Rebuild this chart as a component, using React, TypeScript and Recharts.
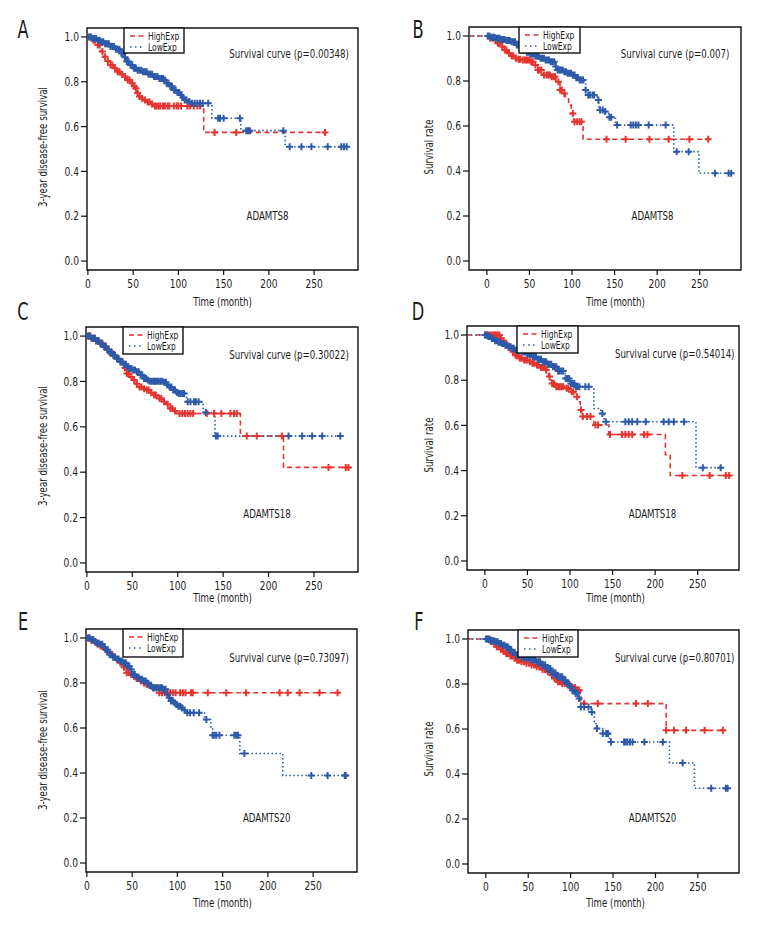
import React from 'react';
import { ComposedChart, Line, Scatter, XAxis, YAxis, ReferenceArea } from 'recharts';

const FONT = "'Liberation Sans Narrow', 'DejaVu Sans Condensed', 'Arial Narrow', sans-serif";
const RED = '#e3342f';
const BLUE = '#2c5aa8';

const xTicks = [0, 50, 100, 150, 200, 250];
const yTicks = [0, 0.2, 0.4, 0.6, 0.8, 1.0];

// ---- A : ADAMTS8, 3-year DFS ----
const aHighTime = [0, 5, 10, 14, 17, 21, 24, 28, 32, 36, 39, 43, 47, 50, 52, 54, 56, 59, 61, 65, 69, 72, 128, 262];
const aHighSurv = [1, 0.985, 0.964, 0.935, 0.912, 0.893, 0.875, 0.86, 0.845, 0.833, 0.823, 0.808, 0.793, 0.78, 0.771, 0.75, 0.734, 0.725, 0.719, 0.71, 0.701, 0.692, 0.574, 0.574];
const aHighCens = [3, 6, 8, 11, 13, 16, 19, 22, 25, 27, 30, 33, 35, 38, 41, 44, 46, 49, 51, 53, 55, 57, 60, 63, 66, 68, 71, 74, 76, 78, 80, 83, 85, 88, 90, 95, 98, 100, 103, 110, 113, 117, 121, 124, 140, 164, 262];
const aLowTime = [0, 5, 10, 14, 19, 25, 30, 36, 40, 43, 47, 50, 55, 61, 67, 72, 78, 84, 87, 91, 95, 98, 102, 105, 107, 110, 113, 137, 169, 218, 287.5];
const aLowSurv = [1, 0.993, 0.985, 0.979, 0.97, 0.957, 0.945, 0.927, 0.91, 0.89, 0.875, 0.86, 0.852, 0.845, 0.834, 0.823, 0.815, 0.808, 0.793, 0.78, 0.763, 0.752, 0.741, 0.73, 0.719, 0.712, 0.704, 0.637, 0.582, 0.51, 0.51];
const aLowCens = [1, 3, 5, 7, 9, 11, 13, 15, 17, 19, 21, 23, 25, 27, 29, 31, 33, 35, 37, 39, 41, 43, 45, 47, 49, 51, 53, 55, 57, 59, 61, 63, 65, 67, 69, 71, 73, 75, 77, 79, 81, 83, 85, 87, 89, 91, 93, 95, 97, 99, 101, 103, 105, 107, 109, 112, 115, 118, 121, 124, 127, 133, 144, 146, 150, 168, 175, 177, 179, 216, 223, 236, 247, 265, 280, 283, 286];

// ---- B : ADAMTS8, overall ----
const bHighTime = [-21, 3, 8, 12, 16, 20, 24, 28, 32, 36, 40, 51, 55, 59, 65, 75, 81, 86, 90, 92, 96, 99, 102, 113, 260.6];
const bHighSurv = [1, 0.99, 0.982, 0.968, 0.953, 0.938, 0.923, 0.912, 0.901, 0.897, 0.893, 0.886, 0.871, 0.849, 0.827, 0.819, 0.797, 0.76, 0.745, 0.73, 0.693, 0.656, 0.619, 0.541, 0.541];
const bHighCens = [4, 7, 10, 13, 15, 18, 21, 23, 26, 29, 31, 34, 37, 39, 42, 44, 46, 48, 50, 52, 54, 57, 60, 62, 64, 67, 70, 72, 74, 76, 78, 80, 84, 86, 88, 91, 101, 103, 106, 109, 111, 140.5, 163, 191, 213.6, 238, 260];
const bLowTime = [-21, 5, 10, 16, 22, 28, 34, 40, 46, 51, 57, 63, 69, 75, 80, 83, 90, 95, 100, 104, 108, 114, 116, 118, 129.5, 131.5, 137, 143, 151, 219.5, 249, 288];
const bLowSurv = [1, 0.995, 0.99, 0.985, 0.98, 0.975, 0.96, 0.938, 0.928, 0.92, 0.91, 0.901, 0.893, 0.886, 0.865, 0.849, 0.841, 0.835, 0.827, 0.815, 0.804, 0.797, 0.76, 0.738, 0.716, 0.671, 0.664, 0.639, 0.604, 0.486, 0.39, 0.39];
const bLowCens = [1, 3, 5, 7, 9, 11, 13, 15, 17, 19, 21, 23, 25, 27, 29, 31, 33, 35, 37, 39, 41, 43, 45, 47, 49, 51, 53, 55, 57, 59, 61, 63, 65, 67, 69, 71, 73, 75, 77, 79, 81, 83, 85, 87, 89, 91, 93, 95, 97, 99, 101, 103, 105, 107, 109, 111, 113, 116, 119, 121, 124, 126, 131, 133, 136, 139, 144, 146, 153, 169, 172, 175, 178, 190, 210, 223, 237, 268, 284, 287];

// ---- C : ADAMTS18, 3-year DFS ----
const cHighTime = [0, 5, 10, 14, 18, 22, 25, 29, 33, 36, 40, 43.4, 47, 50.8, 53, 56, 61, 65.5, 70, 73, 78, 84, 87, 91, 95, 98.7, 169, 216.5, 287];
const cHighSurv = [1, 0.99, 0.978, 0.968, 0.955, 0.94, 0.924, 0.912, 0.9, 0.887, 0.86, 0.835, 0.82, 0.806, 0.79, 0.776, 0.768, 0.762, 0.75, 0.74, 0.725, 0.71, 0.7, 0.681, 0.67, 0.659, 0.559, 0.421, 0.421];
const cHighCens = [2, 4, 6, 8, 10, 12, 15, 17, 19, 21, 24, 26, 28, 31, 34, 37, 39, 42, 44, 46, 49, 52, 55, 58, 60, 63, 66, 68, 71, 74, 76, 80, 82, 85, 89, 92, 94, 97, 102, 105, 108, 111, 114, 117, 132, 140, 148, 158, 162, 165, 176, 187, 214.7, 266, 285, 288];
const cLowTime = [0, 5, 10, 14, 18, 22, 25, 29, 33, 36, 40, 44, 47, 50, 54.5, 58, 62, 66, 69, 84, 87.6, 91, 95, 98, 100.5, 109.7, 128, 141, 279];
const cLowSurv = [1, 0.99, 0.98, 0.965, 0.952, 0.94, 0.93, 0.915, 0.9, 0.887, 0.875, 0.865, 0.857, 0.85, 0.843, 0.828, 0.813, 0.806, 0.801, 0.796, 0.784, 0.775, 0.762, 0.752, 0.747, 0.71, 0.663, 0.559, 0.559];
const cLowCens = [1, 3, 5, 7, 9, 11, 13, 15, 17, 19, 21, 23, 25, 27, 29, 31, 33, 35, 37, 39, 41, 43, 45, 47, 49, 51, 53, 55, 57, 59, 61, 63, 65, 67, 69, 71, 73, 75, 77, 79, 81, 83, 85, 87, 89, 91, 93, 95, 97, 99, 101, 103, 105, 107, 111, 114, 118, 120, 123, 131, 142, 144, 222, 237, 248, 259, 279];

// ---- D : ADAMTS18, overall ----
const dHighTime = [-21, 18, 21, 23.6, 27, 31.5, 35, 39, 45, 51, 55, 59, 65, 71, 73, 75, 77, 78.7, 82.7, 94.5, 100, 106, 110, 112, 114, 128, 145.7, 212, 217.7, 285.4];
const dHighSurv = [1, 0.985, 0.975, 0.963, 0.945, 0.926, 0.91, 0.897, 0.89, 0.882, 0.875, 0.867, 0.856, 0.845, 0.83, 0.816, 0.8, 0.786, 0.771, 0.764, 0.749, 0.727, 0.705, 0.668, 0.639, 0.602, 0.56, 0.47, 0.378, 0.378];
const dHighCens = [1, 3, 5, 7, 9, 11, 13, 15, 17, 19, 22, 25, 28, 30, 33, 36, 38, 41, 43, 46, 48, 50, 53, 56, 58, 61, 63, 66, 68, 70, 72, 76, 79, 81, 84, 86, 88, 90, 92, 96, 98, 102, 104, 108, 113, 115, 120, 124, 130, 133, 147, 161, 165, 169, 173, 187, 191, 232, 264, 283, 287];
const dLowTime = [-21, 3, 8, 12, 16, 19.7, 24, 28, 31.5, 36, 43, 49, 55, 61, 67, 73, 78.7, 84.6, 94.5, 100, 106, 128, 136, 140, 248, 277.6];
const dLowSurv = [1, 0.993, 0.985, 0.975, 0.968, 0.963, 0.955, 0.948, 0.941, 0.933, 0.926, 0.915, 0.904, 0.893, 0.882, 0.871, 0.86, 0.841, 0.808, 0.786, 0.771, 0.675, 0.653, 0.616, 0.413, 0.413];
const dLowCens = [0, 2, 4, 6, 8, 10, 12, 14, 16, 18, 20, 22, 24, 26, 28, 30, 32, 34, 36, 38, 40, 42, 44, 46, 48, 50, 52, 54, 56, 58, 60, 62, 64, 66, 68, 70, 72, 74, 76, 78, 80, 82, 84, 86, 88, 90, 92, 95, 97, 99, 101, 103, 105, 107, 109, 111, 118, 122, 138, 142, 165, 169, 173, 179, 189, 210, 216, 222, 234, 256, 277];

// ---- E : ADAMTS20, 3-year DFS ----
const eHighTime = [0, 4, 8, 11, 14, 18, 21, 25, 29, 33, 36, 40, 43.4, 47, 50.8, 54, 58, 62, 65.5, 69, 73, 78.4, 279];
const eHighSurv = [1, 0.99, 0.98, 0.972, 0.964, 0.952, 0.94, 0.927, 0.915, 0.903, 0.89, 0.87, 0.846, 0.838, 0.831, 0.82, 0.809, 0.8, 0.794, 0.786, 0.779, 0.757, 0.757];
const eHighCens = [2, 5, 7, 10, 12, 15, 17, 20, 23, 26, 28, 31, 34, 37, 39, 41, 44, 46, 49, 52, 55, 57, 60, 63, 66, 68, 71, 74, 77, 80, 83, 86, 89, 92, 95, 98, 103, 106, 109, 115, 117, 133.6, 154, 176, 213, 222, 235, 257, 277];
const eLowTime = [0, 4, 8, 11, 14, 18, 21, 25, 29, 32, 36, 40, 45, 48, 50.8, 55, 58, 62, 66, 69, 73, 84, 87.6, 90, 93, 96, 98.7, 101, 104, 107, 109.7, 130, 137, 139, 169, 216.5, 286.5];
const eLowSurv = [1, 0.993, 0.985, 0.978, 0.972, 0.96, 0.948, 0.927, 0.915, 0.907, 0.898, 0.89, 0.875, 0.86, 0.838, 0.826, 0.817, 0.809, 0.8, 0.79, 0.779, 0.772, 0.749, 0.735, 0.72, 0.712, 0.705, 0.697, 0.69, 0.679, 0.668, 0.638, 0.601, 0.568, 0.487, 0.389, 0.389];
const eLowCens = [1, 3, 5, 7, 9, 11, 13, 15, 17, 19, 21, 23, 25, 27, 29, 31, 33, 35, 37, 39, 41, 43, 45, 47, 49, 51, 53, 55, 57, 59, 61, 63, 65, 67, 69, 71, 73, 75, 77, 79, 81, 83, 85, 87, 89, 91, 93, 95, 97, 99, 101, 103, 105, 108, 111, 114, 118, 124, 132, 139, 141, 143, 146.5, 163, 165, 167, 174, 248, 266, 285, 286];

// ---- F : ADAMTS20, overall ----
const fHighTime = [-21, 5, 9, 11.8, 16, 20, 23.6, 28, 32, 35.4, 41, 47, 53, 59, 65, 71, 76, 79, 82.7, 88, 94.5, 100, 106, 112, 212.6, 279.5];
const fHighSurv = [1, 0.99, 0.978, 0.966, 0.955, 0.945, 0.936, 0.925, 0.915, 0.906, 0.899, 0.892, 0.885, 0.877, 0.865, 0.854, 0.84, 0.825, 0.81, 0.802, 0.795, 0.785, 0.773, 0.713, 0.594, 0.594];
const fHighCens = [2, 4, 6, 8, 10, 13, 15, 18, 21, 24, 26, 29, 31, 34, 37, 39, 42, 45, 48, 51, 54, 57, 60, 63, 67, 70, 73, 78, 81, 85, 87, 90, 93, 97, 99, 102, 105, 108, 110, 116, 132, 177, 191, 212.6, 222, 236, 258, 279.5];
const fLowTime = [-21, 4, 8, 12, 16, 20, 23.6, 28, 32, 35.4, 41, 47, 53, 59, 65, 71, 77, 82.7, 90.5, 95, 98.4, 102, 106, 110, 112, 124, 128, 130, 137.8, 145.7, 216.5, 246, 285.4];
const fLowSurv = [1, 0.996, 0.992, 0.988, 0.98, 0.972, 0.966, 0.952, 0.94, 0.929, 0.92, 0.914, 0.907, 0.899, 0.885, 0.869, 0.85, 0.832, 0.817, 0.8, 0.788, 0.772, 0.758, 0.736, 0.698, 0.676, 0.632, 0.602, 0.58, 0.542, 0.449, 0.337, 0.337];
const fLowCens = [0, 2, 4, 6, 8, 10, 12, 14, 16, 18, 20, 22, 24, 26, 28, 30, 32, 34, 36, 38, 40, 42, 44, 46, 48, 50, 52, 54, 56, 58, 60, 62, 64, 66, 68, 70, 72, 74, 76, 78, 80, 82, 84, 86, 88, 90, 92, 94, 96, 98, 100, 102, 104, 106, 108, 110, 112, 116, 121, 125, 131, 138, 142, 144, 147.6, 163, 165, 167, 170, 173, 187, 208.7, 232, 265.7, 283, 285];

const pValues = ['0.00348', '0.007', '0.30022', '0.54014', '0.73097', '0.80701'];
const genes = ['ADAMTS8', 'ADAMTS8', 'ADAMTS18', 'ADAMTS18', 'ADAMTS20', 'ADAMTS20'];

type Pt = { t: number; s: number };

const toPoints = (ts: number[], ss: number[]): Pt[] => ts.map((t, i) => ({ t, s: ss[i] }));
const stepAt = (ts: number[], ss: number[], c: number) => {
  let v = ss[0];
  for (let i = 0; i < ts.length; i++) if (ts[i] <= c) v = ss[i];
  return v;
};
const toCens = (ts: number[], ss: number[], cs: number[]): Pt[] => cs.map((c) => ({ t: c, s: stepAt(ts, ss, c) }));

const makeCross = (color: string) => (props: any) => {
  const { cx, cy } = props;
  if (cx == null || cy == null) return <g />;
  return <path d={`M${cx - 3.5},${cy}h7M${cx},${cy - 3.5}v7`} stroke={color} strokeWidth={2} fill="none" />;
};
const redCross = makeCross(RED);
const blueCross = makeCross(BLUE);

// condensed look: the page has no narrow font, so squeeze glyphs horizontally
const SX = 0.8;

const XTick = (props: any) => {
  const { x, y, payload } = props;
  return (
    <text transform={`translate(${x} ${y}) scale(0.88 1)`} textAnchor="middle" dy="0.71em" fontSize={11.5} fill="#1a1a1a" fontFamily={FONT}>
      {payload.value}
    </text>
  );
};
const YTick = (props: any) => {
  const { x, y, payload } = props;
  return (
    <text transform={`translate(${x} ${y}) scale(0.88 1)`} textAnchor="end" dy="0.355em" fontSize={11.5} fill="#1a1a1a" fontFamily={FONT}>
      {Number(payload.value).toFixed(1)}
    </text>
  );
};

const NText = ({ x, y, size, anchor = 'middle', rot = 0, sx = SX, children }: any) => (
  <text
    transform={`translate(${x} ${y}) rotate(${rot}) scale(${sx} 1)`}
    fontSize={size}
    textAnchor={anchor}
    dominantBaseline="central"
    fill="#1a1a1a"
  >
    {children}
  </text>
);

const panels = [
  { letter: 'A', ylab: '3-year disease-free survival', frame: { l: 87, t: 28, r: 358, b: 270 }, xMin: -1, xMax: 298.5,
    high: [aHighTime, aHighSurv, aHighCens], low: [aLowTime, aLowSurv, aLowCens],
    letterPos: [23, 29], pPos: [289, 54], genePos: [267.5, 216], xlabPos: [222.5, 302], ylabPos: [43, 147], legend: [124, 28, 60, 25] },
  { letter: 'B', ylab: 'Survival rate', frame: { l: 469, t: 27, r: 741, b: 270 }, xMin: -21, xMax: 298.5,
    high: [bHighTime, bHighSurv, bHighCens], low: [bLowTime, bLowSurv, bLowCens],
    letterPos: [418, 29], pPos: [675, 54], genePos: [652.5, 216], xlabPos: [615.5, 302], ylabPos: [429, 147], legend: [519, 27, 61, 26] },
  { letter: 'C', ylab: '3-year disease-free survival', frame: { l: 86, t: 327, r: 358, b: 572 }, xMin: -1, xMax: 298.5,
    high: [cHighTime, cHighSurv, cHighCens], low: [cLowTime, cLowSurv, cLowCens],
    letterPos: [23, 311.5], pPos: [289, 354.7], genePos: [267, 514.3], xlabPos: [222.5, 598], ylabPos: [43, 446], legend: [123, 327, 60, 27] },
  { letter: 'D', ylab: 'Survival rate', frame: { l: 467, t: 326, r: 739, b: 570 }, xMin: -21, xMax: 298.5,
    high: [dHighTime, dHighSurv, dHighCens], low: [dLowTime, dLowSurv, dLowCens],
    letterPos: [418, 311.5], pPos: [674.7, 354.3], genePos: [652.5, 513.7], xlabPos: [615.5, 598], ylabPos: [429, 445], legend: [517, 326, 61, 27] },
  { letter: 'E', ylab: '3-year disease-free survival', frame: { l: 86, t: 629, r: 357, b: 872 }, xMin: -1, xMax: 298.5,
    high: [eHighTime, eHighSurv, eHighCens], low: [eLowTime, eLowSurv, eLowCens],
    letterPos: [23, 621.5], pPos: [289, 657.7], genePos: [266.7, 818.3], xlabPos: [222.5, 902.7], ylabPos: [43, 750], legend: [123, 629, 60, 28] },
  { letter: 'F', ylab: 'Survival rate', frame: { l: 468, t: 630, r: 739, b: 873 }, xMin: -21, xMax: 298.5,
    high: [fHighTime, fHighSurv, fHighCens], low: [fLowTime, fLowSurv, fLowCens],
    letterPos: [419, 621.5], pPos: [674.7, 657.7], genePos: [652.5, 818.3], xlabPos: [615.5, 902.7], ylabPos: [429, 749], legend: [518, 630, 60, 27] },
];

const Panel = ({ p }: { p: (typeof panels)[number] }) => {
  const { frame } = p;
  const [ht, hs, hc] = p.high;
  const [lt, ls, lc] = p.low;
  const width = frame.r - frame.l + 60;
  const height = frame.b - frame.t + 60;
  return (
    <div style={{ position: 'absolute', left: frame.l - 50, top: frame.t - 20 }}>
      <ComposedChart width={width} height={height} margin={{ top: 20, right: 10, bottom: 10, left: 10 }}>
        <XAxis
          type="number"
          dataKey="t"
          domain={[p.xMin, p.xMax]}
          ticks={xTicks}
          allowDataOverflow
          height={30}
          axisLine={false}
          tickLine={{ stroke: '#111', strokeWidth: 1.2 }}
          tickSize={5}
          tickMargin={5}
          tick={<XTick />}
        />
        <YAxis
          type="number"
          dataKey="s"
          domain={[-0.04, 1.04]}
          ticks={yTicks}
          allowDataOverflow
          width={40}
          axisLine={false}
          tickLine={{ stroke: '#111', strokeWidth: 1.2 }}
          tickSize={6}
          tickMargin={2}
          tick={<YTick />}
        />
        <Line data={toPoints(ht, hs)} dataKey="s" type="stepAfter" stroke={RED} strokeWidth={1.6} strokeDasharray="5 3.5" dot={false} isAnimationActive={false} />
        <Scatter data={toCens(ht, hs, hc)} dataKey="s" shape={redCross} isAnimationActive={false} />
        <Line data={toPoints(lt, ls)} dataKey="s" type="stepAfter" stroke={BLUE} strokeWidth={1.6} strokeDasharray="1.5 2.5" dot={false} isAnimationActive={false} />
        <Scatter data={toCens(lt, ls, lc)} dataKey="s" shape={blueCross} isAnimationActive={false} />
        <ReferenceArea x1={p.xMin} x2={p.xMax} y1={-0.04} y2={1.04} fill="none" fillOpacity={0} stroke="#111" strokeWidth={1.4} ifOverflow="visible" />
      </ComposedChart>
    </div>
  );
};

const Annotations = () => (
  <svg width={780} height={936} style={{ position: 'absolute', left: 0, top: 0, pointerEvents: 'none' }} fontFamily={FONT}>
    {panels.map((p, i) => {
      const [lx, ly, lw, lh] = p.legend;
      return (
        <g key={p.letter}>
          <NText x={p.letterPos[0]} y={p.letterPos[1]} size={25} sx={0.72}>{p.letter}</NText>
          <NText x={p.pPos[0]} y={p.pPos[1]} size={12}>{`Survival curve (p=${pValues[i]})`}</NText>
          <NText x={p.genePos[0]} y={p.genePos[1]} size={12}>{genes[i]}</NText>
          <NText x={p.xlabPos[0]} y={p.xlabPos[1]} size={12}>Time (month)</NText>
          <NText x={p.ylabPos[0]} y={p.ylabPos[1]} size={12} rot={-90}>{p.ylab}</NText>
          <rect x={lx} y={ly} width={lw} height={lh} fill="#fff" stroke="#111" strokeWidth={1.4} />
          <line x1={lx + 6} x2={lx + 21} y1={ly + 8} y2={ly + 8} stroke={RED} strokeWidth={1.5} strokeDasharray="5 3.5" />
          <line x1={lx + 6} x2={lx + 21} y1={ly + 19} y2={ly + 19} stroke={BLUE} strokeWidth={1.5} strokeDasharray="1.5 3.5" />
          <NText x={lx + 24} y={ly + 8} size={10.5} anchor="start">HighExp</NText>
          <NText x={lx + 24} y={ly + 19} size={10.5} anchor="start">LowExp</NText>
        </g>
      );
    })}
  </svg>
);

export default function App() {
  return (
    <div style={{ position: 'absolute', left: 0, top: 0, width: 780, height: 936, background: '#fff' }}>
      {panels.map((p) => (
        <Panel key={p.letter} p={p} />
      ))}
      <Annotations />
    </div>
  );
}
